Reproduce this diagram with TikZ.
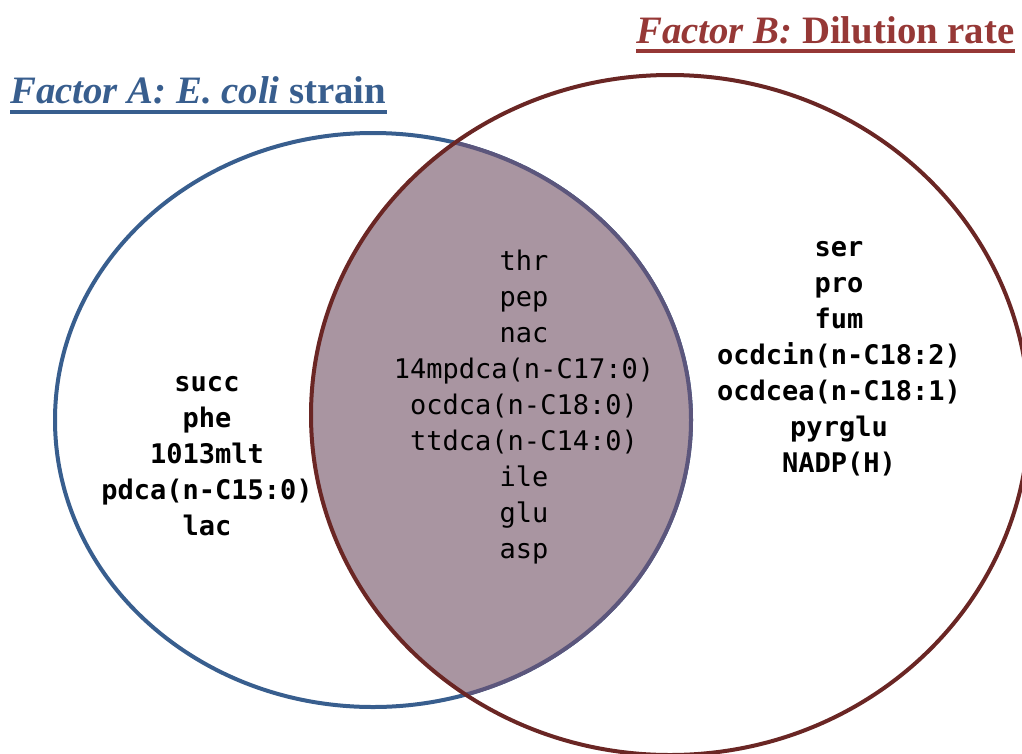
\documentclass[tikz,border=0pt]{standalone}
\usepackage{fontspec}
\newfontfamily\titlefont{Liberation Serif}
\newfontfamily\monofont{DejaVu Sans Mono}
\definecolor{setA}{RGB}{56,94,142}
\definecolor{setB}{RGB}{106,38,36}
\definecolor{titleB}{RGB}{150,56,54}
\definecolor{lens}{RGB}{169,149,161}
\definecolor{lensedge}{RGB}{92,86,124}
\tikzset{
  titletext/.style={font=\titlefont\bfseries\fontsize{38.8}{44}\selectfont, inner sep=0pt},
  items/.style={font=\monofont\fontsize{27}{36}\selectfont, align=center, inner sep=0pt, text=black},
  bolditems/.style={items, font=\monofont\bfseries\fontsize{27}{36}\selectfont},
  rim/.style={line width=4pt},
}
\begin{document}
\begin{tikzpicture}[x=1pt,y=-1pt]
\useasboundingbox (0,0) rectangle (1022,753);
\clip (0,0) rectangle (1022,753);
\coordinate (cA) at (373,420);
\coordinate (cB) at (670,415);

% set A outline
\draw[rim, setA] (cA) ellipse [x radius=318pt, y radius=287pt];

% overlap of the two sets
\begin{scope}
  \clip (cB) ellipse [x radius=359pt, y radius=340pt];
  \fill[lens] (cA) ellipse [x radius=318pt, y radius=287pt];
  \draw[rim, lensedge] (cA) ellipse [x radius=318pt, y radius=287pt];
\end{scope}

% set B outline
\draw[rim, setB] (cB) ellipse [x radius=359pt, y radius=340pt];

% titles
\node[titletext, text=setA, anchor=base west] (tA) at (10,103)
  {\itshape Factor A: E. coli\/ \upshape strain};
\draw[setA, line width=4pt] ([yshift=-9pt]tA.base west) -- ([yshift=-9pt]tA.base east);
\node[titletext, text=titleB, anchor=base west] (tB) at (636,43)
  {\itshape Factor B:\/ \upshape Dilution rate};
\draw[titleB, line width=4pt] ([yshift=-8pt]tB.base west) -- ([yshift=-8pt]tB.base east);

% metabolite lists
\node[bolditems] (onlyA) at (207,456)
  {succ\\phe\\1013mlt\\pdca(n-C15:0)\\lac};
\node[items] (both) at (524,407)
  {thr\\pep\\nac\\14mpdca(n-C17:0)\\ocdca(n-C18:0)\\ttdca(n-C14:0)\\ile\\glu\\asp};
\node[bolditems] (onlyB) at (839,359)
  {ser\\pro\\fum\\ocdcin(n-C18:2)\\ocdcea(n-C18:1)\\pyrglu\\NADP(H)};
\end{tikzpicture}
\end{document}
